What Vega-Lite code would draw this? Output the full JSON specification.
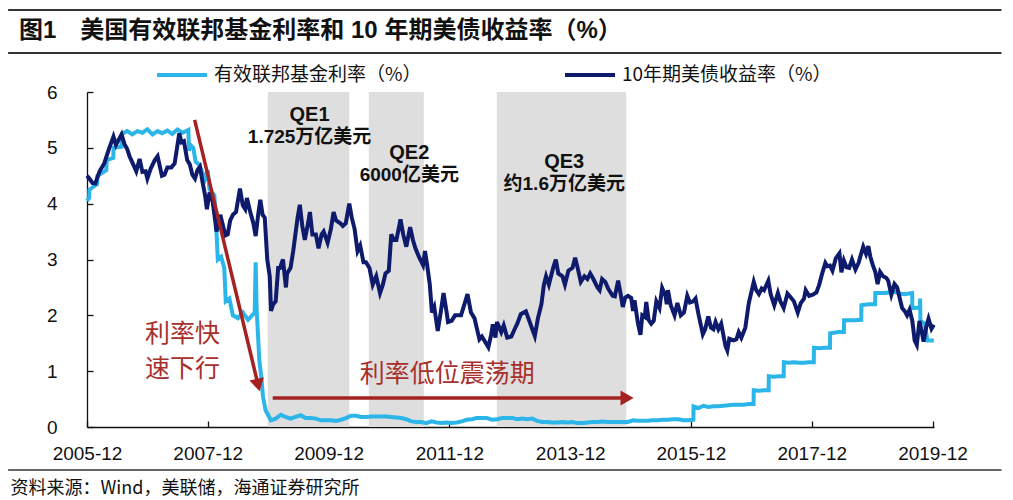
{
  "$schema": "https://vega.github.io/schema/vega-lite/v6.json",
  "width": 847,
  "height": 335,
  "autosize": {"type": "none"},
  "padding": {"left": 87, "top": 92, "right": 79, "bottom": 73},
  "background": "white",
  "config": {
    "view": {"stroke": null},
    "font": "Liberation Sans, Noto Sans CJK SC",
    "axis": {"grid": false, "domainColor": "#111", "tickColor": "#111", "labelColor": "#111", "domainWidth": 1.3, "tickWidth": 1.3, "labelFont": "Liberation Sans", "labelFontSize": 19}
  },
  "title": {
    "text": "图1　美国有效联邦基金利率和 10 年期美债收益率（%）",
    "anchor": "start",
    "frame": "group",
    "dx": -68,
    "offset": -34,
    "font": "Liberation Sans, Noto Sans CJK SC",
    "fontSize": 24,
    "fontWeight": "bold",
    "color": "#111"
  },
  "datasets": {
    "qe": [
      {"start": "2008-11-28", "end": "2010-04-05"},
      {"start": "2010-08-01", "end": "2011-06-30"},
      {"start": "2012-09-13", "end": "2014-11-05"}
    ],
    "ffr": [
      {"d": "2005-12-01", "r": 4.05}, {"d": "2005-12-14", "r": 4.10}, {"d": "2005-12-16", "r": 4.25},
      {"d": "2006-01-15", "r": 4.32}, {"d": "2006-01-31", "r": 4.35}, {"d": "2006-02-02", "r": 4.50},
      {"d": "2006-03-01", "r": 4.55}, {"d": "2006-03-28", "r": 4.60}, {"d": "2006-03-30", "r": 4.78},
      {"d": "2006-05-09", "r": 4.82}, {"d": "2006-05-11", "r": 5.00}, {"d": "2006-06-28", "r": 5.02},
      {"d": "2006-06-30", "r": 5.25}, {"d": "2006-08-01", "r": 5.30}, {"d": "2006-09-01", "r": 5.24},
      {"d": "2006-10-01", "r": 5.30}, {"d": "2006-11-01", "r": 5.27}, {"d": "2006-12-01", "r": 5.33},
      {"d": "2007-01-01", "r": 5.24}, {"d": "2007-02-01", "r": 5.30}, {"d": "2007-03-01", "r": 5.26},
      {"d": "2007-04-01", "r": 5.31}, {"d": "2007-05-01", "r": 5.25}, {"d": "2007-06-01", "r": 5.33},
      {"d": "2007-07-01", "r": 5.27}, {"d": "2007-08-06", "r": 5.32}, {"d": "2007-08-10", "r": 4.95},
      {"d": "2007-08-20", "r": 5.05}, {"d": "2007-09-05", "r": 5.00}, {"d": "2007-09-19", "r": 4.75},
      {"d": "2007-10-10", "r": 4.70}, {"d": "2007-10-31", "r": 4.55}, {"d": "2007-11-15", "r": 4.45},
      {"d": "2007-12-01", "r": 4.60}, {"d": "2007-12-12", "r": 4.25}, {"d": "2008-01-10", "r": 4.15},
      {"d": "2008-01-23", "r": 3.50}, {"d": "2008-01-31", "r": 3.00}, {"d": "2008-02-20", "r": 3.05},
      {"d": "2008-03-10", "r": 2.85}, {"d": "2008-03-19", "r": 2.25}, {"d": "2008-04-10", "r": 2.30},
      {"d": "2008-05-01", "r": 2.00}, {"d": "2008-06-01", "r": 1.95}, {"d": "2008-07-01", "r": 2.05},
      {"d": "2008-08-01", "r": 1.92}, {"d": "2008-09-10", "r": 2.05}, {"d": "2008-09-16", "r": 2.95},
      {"d": "2008-09-22", "r": 2.10}, {"d": "2008-10-08", "r": 1.20}, {"d": "2008-10-20", "r": 0.90},
      {"d": "2008-10-30", "r": 0.55}, {"d": "2008-11-15", "r": 0.30}, {"d": "2008-12-17", "r": 0.12},
      {"d": "2009-01-15", "r": 0.15}, {"d": "2009-02-15", "r": 0.22}, {"d": "2009-03-15", "r": 0.18},
      {"d": "2009-04-15", "r": 0.15}, {"d": "2009-05-15", "r": 0.18}, {"d": "2009-06-15", "r": 0.21},
      {"d": "2009-07-15", "r": 0.16}, {"d": "2009-08-15", "r": 0.16}, {"d": "2009-09-15", "r": 0.15},
      {"d": "2009-10-15", "r": 0.12}, {"d": "2009-11-15", "r": 0.12}, {"d": "2009-12-15", "r": 0.12},
      {"d": "2010-01-15", "r": 0.11}, {"d": "2010-02-15", "r": 0.13}, {"d": "2010-03-15", "r": 0.16},
      {"d": "2010-04-15", "r": 0.20}, {"d": "2010-05-15", "r": 0.20}, {"d": "2010-06-15", "r": 0.18},
      {"d": "2010-07-15", "r": 0.18}, {"d": "2010-08-15", "r": 0.19}, {"d": "2010-09-15", "r": 0.19},
      {"d": "2010-10-15", "r": 0.19}, {"d": "2010-11-15", "r": 0.19}, {"d": "2010-12-15", "r": 0.18},
      {"d": "2011-01-15", "r": 0.17}, {"d": "2011-02-15", "r": 0.16}, {"d": "2011-03-15", "r": 0.14},
      {"d": "2011-04-15", "r": 0.10}, {"d": "2011-05-15", "r": 0.09}, {"d": "2011-06-15", "r": 0.09},
      {"d": "2011-07-15", "r": 0.07}, {"d": "2011-08-15", "r": 0.10}, {"d": "2011-09-15", "r": 0.08},
      {"d": "2011-10-15", "r": 0.07}, {"d": "2011-11-15", "r": 0.08}, {"d": "2011-12-15", "r": 0.07},
      {"d": "2012-01-15", "r": 0.08}, {"d": "2012-02-15", "r": 0.10}, {"d": "2012-03-15", "r": 0.13},
      {"d": "2012-04-15", "r": 0.14}, {"d": "2012-05-15", "r": 0.16}, {"d": "2012-06-15", "r": 0.16},
      {"d": "2012-07-15", "r": 0.16}, {"d": "2012-08-15", "r": 0.13}, {"d": "2012-09-15", "r": 0.14},
      {"d": "2012-10-15", "r": 0.16}, {"d": "2012-11-15", "r": 0.16}, {"d": "2012-12-15", "r": 0.16},
      {"d": "2013-01-15", "r": 0.14}, {"d": "2013-02-15", "r": 0.15}, {"d": "2013-03-15", "r": 0.14},
      {"d": "2013-04-15", "r": 0.15}, {"d": "2013-05-15", "r": 0.11}, {"d": "2013-06-15", "r": 0.09},
      {"d": "2013-07-15", "r": 0.09}, {"d": "2013-08-15", "r": 0.08}, {"d": "2013-09-15", "r": 0.08},
      {"d": "2013-10-15", "r": 0.09}, {"d": "2013-11-15", "r": 0.08}, {"d": "2013-12-15", "r": 0.09},
      {"d": "2014-01-15", "r": 0.07}, {"d": "2014-02-15", "r": 0.07}, {"d": "2014-03-15", "r": 0.08},
      {"d": "2014-04-15", "r": 0.09}, {"d": "2014-05-15", "r": 0.09}, {"d": "2014-06-15", "r": 0.10},
      {"d": "2014-07-15", "r": 0.09}, {"d": "2014-08-15", "r": 0.09}, {"d": "2014-09-15", "r": 0.09},
      {"d": "2014-10-15", "r": 0.09}, {"d": "2014-11-15", "r": 0.09}, {"d": "2014-12-15", "r": 0.12},
      {"d": "2015-01-15", "r": 0.11}, {"d": "2015-02-15", "r": 0.11}, {"d": "2015-03-15", "r": 0.11},
      {"d": "2015-04-15", "r": 0.12}, {"d": "2015-05-15", "r": 0.12}, {"d": "2015-06-15", "r": 0.13},
      {"d": "2015-07-15", "r": 0.13}, {"d": "2015-08-15", "r": 0.14}, {"d": "2015-09-15", "r": 0.14},
      {"d": "2015-10-15", "r": 0.12}, {"d": "2015-11-15", "r": 0.12}, {"d": "2015-12-16", "r": 0.13},
      {"d": "2015-12-17", "r": 0.37}, {"d": "2016-01-15", "r": 0.34}, {"d": "2016-02-15", "r": 0.38},
      {"d": "2016-03-15", "r": 0.36}, {"d": "2016-04-15", "r": 0.37}, {"d": "2016-05-15", "r": 0.37},
      {"d": "2016-06-15", "r": 0.38}, {"d": "2016-07-15", "r": 0.39}, {"d": "2016-08-15", "r": 0.40},
      {"d": "2016-09-15", "r": 0.40}, {"d": "2016-10-15", "r": 0.40}, {"d": "2016-11-15", "r": 0.41},
      {"d": "2016-12-14", "r": 0.41}, {"d": "2016-12-15", "r": 0.66}, {"d": "2017-01-15", "r": 0.65},
      {"d": "2017-02-15", "r": 0.66}, {"d": "2017-03-15", "r": 0.66}, {"d": "2017-03-16", "r": 0.91},
      {"d": "2017-04-15", "r": 0.90}, {"d": "2017-05-15", "r": 0.91}, {"d": "2017-06-14", "r": 0.91},
      {"d": "2017-06-15", "r": 1.16}, {"d": "2017-07-15", "r": 1.15}, {"d": "2017-08-15", "r": 1.16},
      {"d": "2017-09-15", "r": 1.15}, {"d": "2017-10-15", "r": 1.15}, {"d": "2017-11-15", "r": 1.16},
      {"d": "2017-12-13", "r": 1.16}, {"d": "2017-12-14", "r": 1.42}, {"d": "2018-01-15", "r": 1.41},
      {"d": "2018-02-15", "r": 1.42}, {"d": "2018-03-21", "r": 1.42}, {"d": "2018-03-22", "r": 1.68},
      {"d": "2018-04-15", "r": 1.69}, {"d": "2018-05-15", "r": 1.70}, {"d": "2018-06-13", "r": 1.70},
      {"d": "2018-06-14", "r": 1.91}, {"d": "2018-07-15", "r": 1.91}, {"d": "2018-08-15", "r": 1.91},
      {"d": "2018-09-26", "r": 1.92}, {"d": "2018-09-27", "r": 2.18}, {"d": "2018-10-15", "r": 2.19},
      {"d": "2018-11-15", "r": 2.20}, {"d": "2018-12-19", "r": 2.20}, {"d": "2018-12-20", "r": 2.40},
      {"d": "2019-01-15", "r": 2.40}, {"d": "2019-02-15", "r": 2.40}, {"d": "2019-03-15", "r": 2.41},
      {"d": "2019-04-15", "r": 2.42}, {"d": "2019-05-15", "r": 2.39}, {"d": "2019-06-15", "r": 2.38},
      {"d": "2019-07-31", "r": 2.40}, {"d": "2019-08-01", "r": 2.13}, {"d": "2019-09-16", "r": 2.14},
      {"d": "2019-09-17", "r": 2.30}, {"d": "2019-09-19", "r": 1.90}, {"d": "2019-10-15", "r": 1.85},
      {"d": "2019-10-31", "r": 1.55}, {"d": "2019-11-15", "r": 1.55}, {"d": "2019-12-09", "r": 1.55}
    ],
    "ust": [
      {"d": "2005-12-01", "r": 4.50}, {"d": "2005-12-15", "r": 4.45}, {"d": "2006-01-03", "r": 4.37},
      {"d": "2006-01-20", "r": 4.36}, {"d": "2006-02-15", "r": 4.58}, {"d": "2006-03-15", "r": 4.72},
      {"d": "2006-04-15", "r": 5.00}, {"d": "2006-05-10", "r": 5.20}, {"d": "2006-05-25", "r": 5.05},
      {"d": "2006-06-28", "r": 5.24}, {"d": "2006-07-15", "r": 5.07}, {"d": "2006-08-01", "r": 4.98},
      {"d": "2006-08-15", "r": 4.85}, {"d": "2006-09-01", "r": 4.74}, {"d": "2006-09-25", "r": 4.58},
      {"d": "2006-10-15", "r": 4.80}, {"d": "2006-11-01", "r": 4.57}, {"d": "2006-11-20", "r": 4.58},
      {"d": "2006-12-01", "r": 4.45}, {"d": "2006-12-20", "r": 4.62}, {"d": "2007-01-15", "r": 4.78},
      {"d": "2007-02-01", "r": 4.85}, {"d": "2007-02-27", "r": 4.50}, {"d": "2007-03-15", "r": 4.52},
      {"d": "2007-04-01", "r": 4.65}, {"d": "2007-04-25", "r": 4.65}, {"d": "2007-05-15", "r": 4.72},
      {"d": "2007-06-12", "r": 5.26}, {"d": "2007-06-25", "r": 5.10}, {"d": "2007-07-10", "r": 5.12},
      {"d": "2007-07-30", "r": 4.78}, {"d": "2007-08-15", "r": 4.70}, {"d": "2007-08-30", "r": 4.52},
      {"d": "2007-09-15", "r": 4.45}, {"d": "2007-09-30", "r": 4.60}, {"d": "2007-10-15", "r": 4.66},
      {"d": "2007-10-30", "r": 4.40}, {"d": "2007-11-15", "r": 4.15}, {"d": "2007-11-26", "r": 3.90},
      {"d": "2007-12-12", "r": 4.20}, {"d": "2007-12-31", "r": 4.04}, {"d": "2008-01-15", "r": 3.70},
      {"d": "2008-01-23", "r": 3.50}, {"d": "2008-02-01", "r": 3.60}, {"d": "2008-02-15", "r": 3.80},
      {"d": "2008-03-17", "r": 3.43}, {"d": "2008-03-31", "r": 3.45}, {"d": "2008-04-15", "r": 3.70},
      {"d": "2008-05-01", "r": 3.80}, {"d": "2008-05-20", "r": 3.85}, {"d": "2008-06-13", "r": 4.27},
      {"d": "2008-06-30", "r": 3.97}, {"d": "2008-07-15", "r": 3.90}, {"d": "2008-07-25", "r": 4.10},
      {"d": "2008-08-15", "r": 3.84}, {"d": "2008-09-02", "r": 3.65}, {"d": "2008-09-16", "r": 3.42},
      {"d": "2008-10-01", "r": 3.80}, {"d": "2008-10-14", "r": 4.07}, {"d": "2008-10-28", "r": 3.80},
      {"d": "2008-11-10", "r": 3.75}, {"d": "2008-11-25", "r": 3.00}, {"d": "2008-12-10", "r": 2.70},
      {"d": "2008-12-18", "r": 2.08}, {"d": "2008-12-31", "r": 2.20}, {"d": "2009-01-15", "r": 2.25},
      {"d": "2009-01-30", "r": 2.85}, {"d": "2009-02-10", "r": 2.85}, {"d": "2009-02-28", "r": 3.00},
      {"d": "2009-03-18", "r": 2.50}, {"d": "2009-03-25", "r": 2.75}, {"d": "2009-04-15", "r": 2.85},
      {"d": "2009-05-01", "r": 3.15}, {"d": "2009-05-27", "r": 3.74}, {"d": "2009-06-10", "r": 3.98},
      {"d": "2009-06-25", "r": 3.60}, {"d": "2009-07-10", "r": 3.35}, {"d": "2009-07-30", "r": 3.65},
      {"d": "2009-08-10", "r": 3.85}, {"d": "2009-08-25", "r": 3.45}, {"d": "2009-09-15", "r": 3.45},
      {"d": "2009-10-01", "r": 3.20}, {"d": "2009-10-20", "r": 3.45}, {"d": "2009-11-01", "r": 3.50},
      {"d": "2009-11-25", "r": 3.30}, {"d": "2009-12-15", "r": 3.55}, {"d": "2009-12-31", "r": 3.85},
      {"d": "2010-01-15", "r": 3.70}, {"d": "2010-02-10", "r": 3.65}, {"d": "2010-02-25", "r": 3.60},
      {"d": "2010-03-15", "r": 3.65}, {"d": "2010-04-05", "r": 4.00}, {"d": "2010-04-20", "r": 3.75},
      {"d": "2010-05-07", "r": 3.55}, {"d": "2010-05-25", "r": 3.15}, {"d": "2010-06-10", "r": 3.25},
      {"d": "2010-06-30", "r": 2.95}, {"d": "2010-07-15", "r": 2.95}, {"d": "2010-08-05", "r": 2.85},
      {"d": "2010-08-25", "r": 2.55}, {"d": "2010-09-15", "r": 2.70}, {"d": "2010-10-08", "r": 2.40},
      {"d": "2010-10-25", "r": 2.55}, {"d": "2010-11-10", "r": 2.75}, {"d": "2010-11-30", "r": 2.80},
      {"d": "2010-12-15", "r": 3.45}, {"d": "2010-12-30", "r": 3.35}, {"d": "2011-01-15", "r": 3.35},
      {"d": "2011-02-09", "r": 3.72}, {"d": "2011-02-25", "r": 3.45}, {"d": "2011-03-16", "r": 3.23},
      {"d": "2011-04-08", "r": 3.58}, {"d": "2011-04-25", "r": 3.35}, {"d": "2011-05-10", "r": 3.20},
      {"d": "2011-05-31", "r": 3.05}, {"d": "2011-06-25", "r": 2.90}, {"d": "2011-07-07", "r": 3.15},
      {"d": "2011-07-20", "r": 2.90}, {"d": "2011-08-05", "r": 2.55}, {"d": "2011-08-18", "r": 2.05},
      {"d": "2011-09-01", "r": 2.15}, {"d": "2011-09-22", "r": 1.72}, {"d": "2011-10-10", "r": 2.05},
      {"d": "2011-10-27", "r": 2.40}, {"d": "2011-11-15", "r": 2.05}, {"d": "2011-11-23", "r": 1.88},
      {"d": "2011-12-15", "r": 1.90}, {"d": "2012-01-05", "r": 2.00}, {"d": "2012-01-20", "r": 2.00},
      {"d": "2012-02-10", "r": 2.00}, {"d": "2012-03-20", "r": 2.38}, {"d": "2012-04-10", "r": 2.05},
      {"d": "2012-05-01", "r": 1.95}, {"d": "2012-05-31", "r": 1.57}, {"d": "2012-06-15", "r": 1.62},
      {"d": "2012-07-24", "r": 1.43}, {"d": "2012-08-10", "r": 1.65}, {"d": "2012-08-20", "r": 1.84},
      {"d": "2012-09-05", "r": 1.60}, {"d": "2012-09-14", "r": 1.88}, {"d": "2012-10-10", "r": 1.70},
      {"d": "2012-10-25", "r": 1.82}, {"d": "2012-11-15", "r": 1.60}, {"d": "2012-12-10", "r": 1.62},
      {"d": "2012-12-31", "r": 1.76}, {"d": "2013-01-15", "r": 1.85}, {"d": "2013-02-05", "r": 2.02},
      {"d": "2013-03-08", "r": 2.07}, {"d": "2013-04-10", "r": 1.80}, {"d": "2013-05-01", "r": 1.63},
      {"d": "2013-05-20", "r": 1.95}, {"d": "2013-06-10", "r": 2.20}, {"d": "2013-06-25", "r": 2.55},
      {"d": "2013-07-08", "r": 2.70}, {"d": "2013-07-25", "r": 2.55}, {"d": "2013-08-20", "r": 2.85},
      {"d": "2013-09-05", "r": 3.00}, {"d": "2013-09-20", "r": 2.75}, {"d": "2013-10-15", "r": 2.70},
      {"d": "2013-10-30", "r": 2.55}, {"d": "2013-11-20", "r": 2.80}, {"d": "2013-12-15", "r": 2.85},
      {"d": "2013-12-31", "r": 3.03}, {"d": "2014-01-15", "r": 2.85}, {"d": "2014-02-03", "r": 2.60},
      {"d": "2014-02-25", "r": 2.70}, {"d": "2014-03-15", "r": 2.65}, {"d": "2014-04-01", "r": 2.75},
      {"d": "2014-04-20", "r": 2.65}, {"d": "2014-05-15", "r": 2.50}, {"d": "2014-05-28", "r": 2.45},
      {"d": "2014-06-12", "r": 2.65}, {"d": "2014-07-01", "r": 2.60}, {"d": "2014-07-20", "r": 2.47},
      {"d": "2014-08-15", "r": 2.35}, {"d": "2014-08-28", "r": 2.34}, {"d": "2014-09-17", "r": 2.62},
      {"d": "2014-10-01", "r": 2.40}, {"d": "2014-10-15", "r": 2.15}, {"d": "2014-10-30", "r": 2.32},
      {"d": "2014-11-15", "r": 2.35}, {"d": "2014-12-05", "r": 2.31}, {"d": "2014-12-16", "r": 2.08},
      {"d": "2014-12-25", "r": 2.27}, {"d": "2015-01-15", "r": 1.85}, {"d": "2015-01-30", "r": 1.65},
      {"d": "2015-02-10", "r": 2.00}, {"d": "2015-02-25", "r": 1.97}, {"d": "2015-03-06", "r": 2.24},
      {"d": "2015-03-20", "r": 1.92}, {"d": "2015-04-05", "r": 1.85}, {"d": "2015-04-20", "r": 1.90},
      {"d": "2015-05-06", "r": 2.25}, {"d": "2015-05-25", "r": 2.13}, {"d": "2015-06-10", "r": 2.49},
      {"d": "2015-06-30", "r": 2.35}, {"d": "2015-07-08", "r": 2.20}, {"d": "2015-07-15", "r": 2.45},
      {"d": "2015-08-01", "r": 2.18}, {"d": "2015-08-24", "r": 2.00}, {"d": "2015-09-10", "r": 2.22},
      {"d": "2015-10-01", "r": 2.00}, {"d": "2015-10-20", "r": 2.05}, {"d": "2015-11-09", "r": 2.35},
      {"d": "2015-11-25", "r": 2.23}, {"d": "2015-12-15", "r": 2.25}, {"d": "2015-12-29", "r": 2.30},
      {"d": "2016-01-15", "r": 2.03}, {"d": "2016-02-11", "r": 1.66}, {"d": "2016-02-25", "r": 1.75},
      {"d": "2016-03-15", "r": 1.98}, {"d": "2016-03-31", "r": 1.78}, {"d": "2016-04-15", "r": 1.75},
      {"d": "2016-04-28", "r": 1.88}, {"d": "2016-05-15", "r": 1.75}, {"d": "2016-06-01", "r": 1.85},
      {"d": "2016-06-27", "r": 1.45}, {"d": "2016-07-08", "r": 1.37}, {"d": "2016-07-20", "r": 1.58},
      {"d": "2016-08-15", "r": 1.55}, {"d": "2016-09-01", "r": 1.57}, {"d": "2016-09-15", "r": 1.70},
      {"d": "2016-10-01", "r": 1.60}, {"d": "2016-10-25", "r": 1.78}, {"d": "2016-11-15", "r": 2.22},
      {"d": "2016-12-15", "r": 2.60}, {"d": "2016-12-30", "r": 2.45}, {"d": "2017-01-15", "r": 2.38},
      {"d": "2017-02-01", "r": 2.48}, {"d": "2017-02-15", "r": 2.45}, {"d": "2017-03-13", "r": 2.62},
      {"d": "2017-03-27", "r": 2.38}, {"d": "2017-04-18", "r": 2.18}, {"d": "2017-05-10", "r": 2.40},
      {"d": "2017-05-25", "r": 2.25}, {"d": "2017-06-14", "r": 2.13}, {"d": "2017-07-07", "r": 2.39},
      {"d": "2017-07-25", "r": 2.33}, {"d": "2017-08-15", "r": 2.25}, {"d": "2017-09-07", "r": 2.05},
      {"d": "2017-09-25", "r": 2.22}, {"d": "2017-10-15", "r": 2.30}, {"d": "2017-10-25", "r": 2.45},
      {"d": "2017-11-15", "r": 2.35}, {"d": "2017-12-07", "r": 2.37}, {"d": "2017-12-29", "r": 2.41},
      {"d": "2018-01-15", "r": 2.55}, {"d": "2018-01-30", "r": 2.72}, {"d": "2018-02-21", "r": 2.94},
      {"d": "2018-03-05", "r": 2.88}, {"d": "2018-03-21", "r": 2.89}, {"d": "2018-04-05", "r": 2.80},
      {"d": "2018-04-25", "r": 3.02}, {"d": "2018-05-17", "r": 3.11}, {"d": "2018-05-29", "r": 2.77},
      {"d": "2018-06-13", "r": 2.98}, {"d": "2018-06-29", "r": 2.86}, {"d": "2018-07-15", "r": 2.85},
      {"d": "2018-08-01", "r": 3.00}, {"d": "2018-08-22", "r": 2.82}, {"d": "2018-09-10", "r": 2.94},
      {"d": "2018-09-25", "r": 3.10}, {"d": "2018-10-08", "r": 3.23}, {"d": "2018-10-25", "r": 3.10},
      {"d": "2018-11-08", "r": 3.24}, {"d": "2018-11-20", "r": 3.05}, {"d": "2018-12-05", "r": 2.90},
      {"d": "2018-12-20", "r": 2.78}, {"d": "2019-01-03", "r": 2.56}, {"d": "2019-01-18", "r": 2.78},
      {"d": "2019-02-05", "r": 2.70}, {"d": "2019-02-25", "r": 2.67}, {"d": "2019-03-08", "r": 2.62},
      {"d": "2019-03-27", "r": 2.37}, {"d": "2019-04-15", "r": 2.56}, {"d": "2019-05-01", "r": 2.50},
      {"d": "2019-05-31", "r": 2.13}, {"d": "2019-06-15", "r": 2.08}, {"d": "2019-06-30", "r": 2.00},
      {"d": "2019-07-15", "r": 2.10}, {"d": "2019-08-01", "r": 1.90}, {"d": "2019-08-15", "r": 1.55},
      {"d": "2019-08-28", "r": 1.47}, {"d": "2019-09-13", "r": 1.90}, {"d": "2019-09-30", "r": 1.66},
      {"d": "2019-10-08", "r": 1.53}, {"d": "2019-10-25", "r": 1.80}, {"d": "2019-11-07", "r": 1.94},
      {"d": "2019-11-25", "r": 1.76}, {"d": "2019-12-09", "r": 1.83}
    ],
    "arrows": [
      {"d1": "2007-09-13", "v1": 5.5, "d2": "2008-10-01", "v2": 0.75},
      {"d1": "2008-12-28", "v1": 0.52, "d2": "2014-11-10", "v2": 0.52}
    ],
    "head1": [{"d": "2008-10-01", "v": 0.75}],
    "head2": [{"d": "2014-11-10", "v": 0.52}],
    "qeTitle": [
      {"d": "2009-08-08", "v": 5.59, "t": "QE1"},
      {"d": "2011-04-03", "v": 4.91, "t": "QE2"},
      {"d": "2013-10-26", "v": 4.75, "t": "QE3"}
    ],
    "qeAmt": [
      {"d": "2009-08-08", "v": 5.20, "t": "1.725万亿美元"},
      {"d": "2011-04-03", "v": 4.52, "t": "6000亿美元"},
      {"d": "2013-10-26", "v": 4.35, "t": "约1.6万亿美元"}
    ],
    "redText": [
      {"d": "2007-07-02", "v": 1.67, "t": "利率快"},
      {"d": "2007-07-02", "v": 1.03, "t": "速下行"},
      {"d": "2011-11-18", "v": 0.95, "t": "利率低位震荡期"}
    ]
  },
  "layer": [
    {
      "data": {"name": "qe"},
      "mark": {"type": "rect", "color": "#dedede"},
      "encoding": {
        "x": {
          "field": "start", "type": "temporal",
          "scale": {"type": "utc", "domain": [{"year": 2005, "month": 12, "date": 1, "utc": true}, {"year": 2019, "month": 12, "date": 10, "utc": true}]},
          "axis": {
            "values": [
              {"year": 2005, "month": 12, "date": 1, "utc": true},
              {"year": 2007, "month": 12, "date": 1, "utc": true},
              {"year": 2009, "month": 12, "date": 1, "utc": true},
              {"year": 2011, "month": 12, "date": 1, "utc": true},
              {"year": 2013, "month": 12, "date": 1, "utc": true},
              {"year": 2015, "month": 12, "date": 1, "utc": true},
              {"year": 2017, "month": 12, "date": 1, "utc": true},
              {"year": 2019, "month": 12, "date": 1, "utc": true}
            ],
            "format": "%Y-%m",
            "tickSize": -6,
            "labelPadding": 23,
            "labelFlush": false,
            "labelOverlap": false,
            "title": "资料来源：Wind，美联储，海通证券研究所",
            "titleFont": "Noto Sans CJK SC",
            "titleFontSize": 18,
            "titleFontWeight": "normal",
            "titleColor": "#111",
            "titleAnchor": "start",
            "titleAlign": "left",
            "titleBaseline": "middle",
            "titleX": -77,
            "titleY": 61
          }
        },
        "x2": {"field": "end"}
      }
    },
    {
      "data": {"name": "ffr"},
      "mark": {"type": "line", "strokeWidth": 4},
      "encoding": {
        "x": {"field": "d", "type": "temporal"},
        "y": {
          "field": "r", "type": "quantitative",
          "scale": {"domain": [0, 6], "nice": false},
          "axis": {"values": [0, 1, 2, 3, 4, 5, 6], "format": "d", "tickSize": -6, "labelPadding": 36, "labelFlush": false, "title": null}
        },
        "color": {
          "datum": "有效联邦基金利率（%）",
          "scale": {"domain": ["有效联邦基金利率（%）", "10年期美债收益率（%）"], "range": ["#2bb5e8", "#0e1a6c"]},
          "legend": {"orient": "none", "legendX": 68, "legendY": -44, "direction": "horizontal", "title": null, "symbolType": "stroke", "symbolSize": 2500, "symbolStrokeWidth": 4, "labelFont": "Noto Sans CJK SC", "labelFontSize": 19, "labelColor": "#111", "labelOffset": 5, "columnPadding": 135, "padding": 0, "labelLimit": 400}
        }
      }
    },
    {
      "data": {"name": "ust"},
      "mark": {"type": "line", "strokeWidth": 4},
      "encoding": {
        "x": {"field": "d", "type": "temporal"},
        "y": {"field": "r", "type": "quantitative"},
        "color": {"datum": "10年期美债收益率（%）"}
      }
    },
    {
      "data": {"name": "arrows"},
      "mark": {"type": "rule", "color": "#a52222", "strokeWidth": 3.5},
      "encoding": {
        "x": {"field": "d1", "type": "temporal"},
        "x2": {"field": "d2"},
        "y": {"field": "v1", "type": "quantitative"},
        "y2": {"field": "v2"}
      }
    },
    {
      "data": {"name": "head1"},
      "mark": {"type": "point", "shape": "triangle-down", "angle": 346.6, "filled": true, "color": "#a52222", "opacity": 1, "size": 220},
      "encoding": {
        "x": {"field": "d", "type": "temporal"},
        "y": {"field": "v", "type": "quantitative"}
      }
    },
    {
      "data": {"name": "head2"},
      "mark": {"type": "point", "shape": "triangle-right", "filled": true, "color": "#a52222", "opacity": 1, "size": 230},
      "encoding": {
        "x": {"field": "d", "type": "temporal"},
        "y": {"field": "v", "type": "quantitative"}
      }
    },
    {
      "data": {"name": "qeTitle"},
      "mark": {"type": "text", "font": "Liberation Sans, Noto Sans CJK SC", "fontSize": 20, "fontWeight": "bold", "color": "#111", "align": "center", "baseline": "middle"},
      "encoding": {
        "x": {"field": "d", "type": "temporal"},
        "y": {"field": "v", "type": "quantitative"},
        "text": {"field": "t"}
      }
    },
    {
      "data": {"name": "qeAmt"},
      "mark": {"type": "text", "font": "Liberation Sans, Noto Sans CJK SC", "fontSize": 19, "fontWeight": "bold", "color": "#111", "align": "center", "baseline": "middle"},
      "encoding": {
        "x": {"field": "d", "type": "temporal"},
        "y": {"field": "v", "type": "quantitative"},
        "text": {"field": "t"}
      }
    },
    {
      "data": {"name": "redText"},
      "mark": {"type": "text", "font": "Noto Sans CJK SC", "fontSize": 25, "color": "#a8302c", "align": "center", "baseline": "middle"},
      "encoding": {
        "x": {"field": "d", "type": "temporal"},
        "y": {"field": "v", "type": "quantitative"},
        "text": {"field": "t"}
      }
    },
    {
      "data": {"values": [{}]},
      "mark": {"type": "rule", "color": "#333", "strokeWidth": 2},
      "encoding": {
        "x": {"datum": {"year": 2004, "month": 8, "date": 11, "utc": true}, "type": "temporal"},
        "x2": {"datum": {"year": 2021, "month": 1, "date": 21, "utc": true}},
        "y": {"datum": 7.47, "type": "quantitative"}
      }
    },
    {
      "data": {"values": [{}]},
      "mark": {"type": "rule", "color": "#333", "strokeWidth": 2},
      "encoding": {
        "x": {"datum": {"year": 2004, "month": 8, "date": 11, "utc": true}, "type": "temporal"},
        "x2": {"datum": {"year": 2021, "month": 1, "date": 21, "utc": true}},
        "y": {"datum": 6.70, "type": "quantitative"}
      }
    },
    {
      "data": {"values": [{}]},
      "mark": {"type": "rule", "color": "#333", "strokeWidth": 1.6},
      "encoding": {
        "x": {"datum": {"year": 2004, "month": 8, "date": 11, "utc": true}, "type": "temporal"},
        "x2": {"datum": {"year": 2021, "month": 1, "date": 21, "utc": true}},
        "y": {"datum": -0.77, "type": "quantitative"}
      }
    }
  ]
}
